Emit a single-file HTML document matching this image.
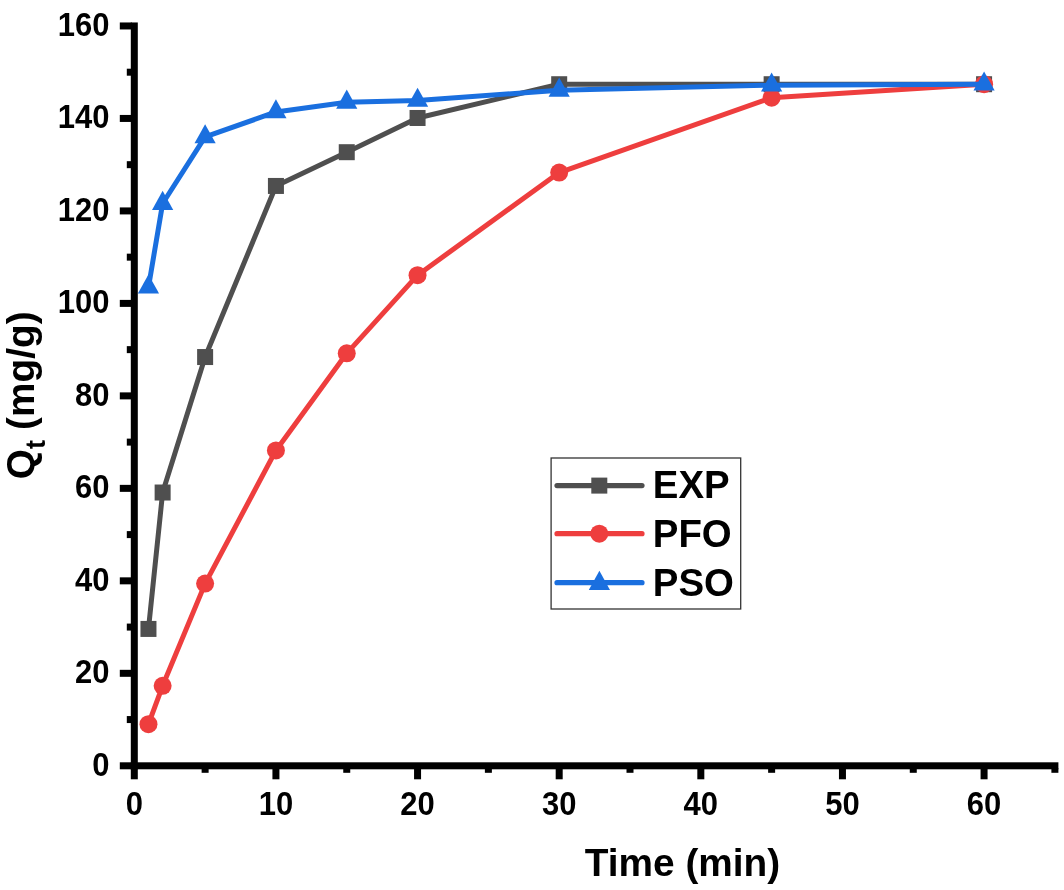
<!DOCTYPE html>
<html lang="en"><head><meta charset="utf-8"><title>Adsorption kinetics</title>
<style>html,body{margin:0;padding:0;background:#fff;}body{width:1064px;height:890px;overflow:hidden;}svg{display:block;will-change:transform;}
text{font-family:"Liberation Sans",Arial,Helvetica,sans-serif;font-weight:bold;fill:#000;}
.tk{font-size:31px;}.ttl{font-size:38.8px;}.lg{font-size:38.4px;}
</style></head><body>
<svg width="1064" height="890" viewBox="0 0 1064 890">
<rect width="1064" height="890" fill="#fff"/>
<g fill="none" stroke-linejoin="round" stroke-linecap="butt" stroke-width="5">
<polyline points="148.46,628.93 162.63,492.52 205.12,357.04 275.93,185.95 346.75,152.2 417.56,117.98 559.19,84.22 771.63,84.22 984.08,84.22" stroke="#4F4F4F"/>
</g><g>
<rect x="140.46" y="620.93" width="16" height="16" fill="#4F4F4F"/>
<rect x="154.63" y="484.52" width="16" height="16" fill="#4F4F4F"/>
<rect x="197.12" y="349.04" width="16" height="16" fill="#4F4F4F"/>
<rect x="267.93" y="177.95" width="16" height="16" fill="#4F4F4F"/>
<rect x="338.75" y="144.2" width="16" height="16" fill="#4F4F4F"/>
<rect x="409.56" y="109.98" width="16" height="16" fill="#4F4F4F"/>
<rect x="551.19" y="76.22" width="16" height="16" fill="#4F4F4F"/>
<rect x="763.63" y="76.22" width="16" height="16" fill="#4F4F4F"/>
<rect x="976.08" y="76.22" width="16" height="16" fill="#4F4F4F"/>
</g>
<g fill="none" stroke-linejoin="round" stroke-width="5"><polyline points="148.46,724.18 162.63,685.8 205.12,583.61 275.93,450.44 346.75,353.34 417.56,275.19 559.19,172.54 771.63,97.63 984.08,84.22" stroke="#EE3E3E"/></g><g>
<circle cx="148.46" cy="724.18" r="9" fill="#EE3E3E"/>
<circle cx="162.63" cy="685.8" r="9" fill="#EE3E3E"/>
<circle cx="205.12" cy="583.61" r="9" fill="#EE3E3E"/>
<circle cx="275.93" cy="450.44" r="9" fill="#EE3E3E"/>
<circle cx="346.75" cy="353.34" r="9" fill="#EE3E3E"/>
<circle cx="417.56" cy="275.19" r="9" fill="#EE3E3E"/>
<circle cx="559.19" cy="172.54" r="9" fill="#EE3E3E"/>
<circle cx="771.63" cy="97.63" r="9" fill="#EE3E3E"/>
<circle cx="984.08" cy="84.22" r="9" fill="#EE3E3E"/>
</g>
<g fill="none" stroke-linejoin="round" stroke-width="5"><polyline points="148.46,287.22 162.63,203.52 205.12,136.94 275.93,111.97 346.75,102.26 417.56,100.41 559.19,90.23 771.63,85.15 984.08,84.22" stroke="#1A6FDF"/></g><g>
<polygon points="148.46,274.52 137.86,293.62 159.06,293.62" fill="#1A6FDF"/>
<polygon points="162.63,190.82 152.03,209.92 173.23,209.92" fill="#1A6FDF"/>
<polygon points="205.12,124.24 194.52,143.34 215.72,143.34" fill="#1A6FDF"/>
<polygon points="275.93,99.27 265.33,118.37 286.53,118.37" fill="#1A6FDF"/>
<polygon points="346.75,89.56 336.14,108.66 357.35,108.66" fill="#1A6FDF"/>
<polygon points="417.56,87.71 406.96,106.81 428.16,106.81" fill="#1A6FDF"/>
<polygon points="559.19,77.53 548.59,96.63 569.79,96.63" fill="#1A6FDF"/>
<polygon points="771.63,72.45 761.03,91.55 782.24,91.55" fill="#1A6FDF"/>
<polygon points="984.08,71.52 973.48,90.62 994.68,90.62" fill="#1A6FDF"/>
</g>
<g fill="#000">
<rect x="130.8" y="22.46" width="7" height="746.84"/>
<rect x="130.8" y="762.3" width="927.6" height="7"/>
<rect x="119.8" y="762.3" width="12" height="7"/>
<rect x="126.8" y="716.06" width="5" height="7"/>
<rect x="119.8" y="669.82" width="12" height="7"/>
<rect x="126.8" y="623.58" width="5" height="7"/>
<rect x="119.8" y="577.34" width="12" height="7"/>
<rect x="126.8" y="531.1" width="5" height="7"/>
<rect x="119.8" y="484.86" width="12" height="7"/>
<rect x="126.8" y="438.62" width="5" height="7"/>
<rect x="119.8" y="392.38" width="12" height="7"/>
<rect x="126.8" y="346.14" width="5" height="7"/>
<rect x="119.8" y="299.9" width="12" height="7"/>
<rect x="126.8" y="253.66" width="5" height="7"/>
<rect x="119.8" y="207.42" width="12" height="7"/>
<rect x="126.8" y="161.18" width="5" height="7"/>
<rect x="119.8" y="114.94" width="12" height="7"/>
<rect x="126.8" y="68.7" width="5" height="7"/>
<rect x="119.8" y="22.46" width="12" height="7"/>
<rect x="130.8" y="768.3" width="7" height="11"/>
<rect x="201.62" y="768.3" width="7" height="4.5"/>
<rect x="272.43" y="768.3" width="7" height="11"/>
<rect x="343.25" y="768.3" width="7" height="4.5"/>
<rect x="414.06" y="768.3" width="7" height="11"/>
<rect x="484.88" y="768.3" width="7" height="4.5"/>
<rect x="555.69" y="768.3" width="7" height="11"/>
<rect x="626.5" y="768.3" width="7" height="4.5"/>
<rect x="697.32" y="768.3" width="7" height="11"/>
<rect x="768.13" y="768.3" width="7" height="4.5"/>
<rect x="838.95" y="768.3" width="7" height="11"/>
<rect x="909.77" y="768.3" width="7" height="4.5"/>
<rect x="980.58" y="768.3" width="7" height="11"/>
<rect x="1051.39" y="768.3" width="7" height="4.5"/>
</g>
<g class="tk" text-anchor="end">
<text transform="translate(109.4 775.5) scale(1 1.1)">0</text>
<text transform="translate(109.4 683.02) scale(1 1.1)">20</text>
<text transform="translate(109.4 590.54) scale(1 1.1)">40</text>
<text transform="translate(109.4 498.06) scale(1 1.1)">60</text>
<text transform="translate(109.4 405.58) scale(1 1.1)">80</text>
<text transform="translate(109.4 313.1) scale(1 1.1)">100</text>
<text transform="translate(109.4 220.62) scale(1 1.1)">120</text>
<text transform="translate(109.4 128.14) scale(1 1.1)">140</text>
<text transform="translate(109.4 35.66) scale(1 1.1)">160</text>
</g><g class="tk" text-anchor="middle">
<text transform="translate(134.3 814.8) scale(1 1.1)">0</text>
<text transform="translate(275.93 814.8) scale(1 1.1)">10</text>
<text transform="translate(417.56 814.8) scale(1 1.1)">20</text>
<text transform="translate(559.19 814.8) scale(1 1.1)">30</text>
<text transform="translate(700.82 814.8) scale(1 1.1)">40</text>
<text transform="translate(842.45 814.8) scale(1 1.1)">50</text>
<text transform="translate(984.08 814.8) scale(1 1.1)">60</text>
</g>
<text class="ttl" text-anchor="middle" x="682.5" y="875.8">Time (min)</text>
<g transform="translate(33.7 0) rotate(-90)"><text class="ttl" x="-479.3" y="0">Q<tspan font-size="27" x="-449.1" y="11.2">t</tspan><tspan x="-429.9" y="0"> </tspan></text><text class="ttl" x="-429.9" y="0">(mg/g)</text></g>
<rect x="551.1" y="458" width="189.6" height="151" fill="#fff" stroke="#333" stroke-width="1.3"/>
<line x1="557" y1="485.6" x2="642" y2="485.6" stroke="#4F4F4F" stroke-width="5.2" stroke-linecap="round"/>
<line x1="557" y1="533.7" x2="642" y2="533.7" stroke="#EE3E3E" stroke-width="5.2" stroke-linecap="round"/>
<line x1="557" y1="582.7" x2="642" y2="582.7" stroke="#1A6FDF" stroke-width="5.2" stroke-linecap="round"/>
<rect x="591.3" y="477.6" width="16" height="16" fill="#4F4F4F"/>
<circle cx="599.3" cy="533.7" r="9" fill="#EE3E3E"/>
<polygon points="599.4,570.8 588.8,589.9 610,589.9" fill="#1A6FDF"/>
<text class="lg" x="652.8" y="498.3">EXP</text>
<text class="lg" x="652.8" y="546.6">PFO</text>
<text class="lg" x="652.8" y="595.8">PSO</text>
</svg></body></html>
